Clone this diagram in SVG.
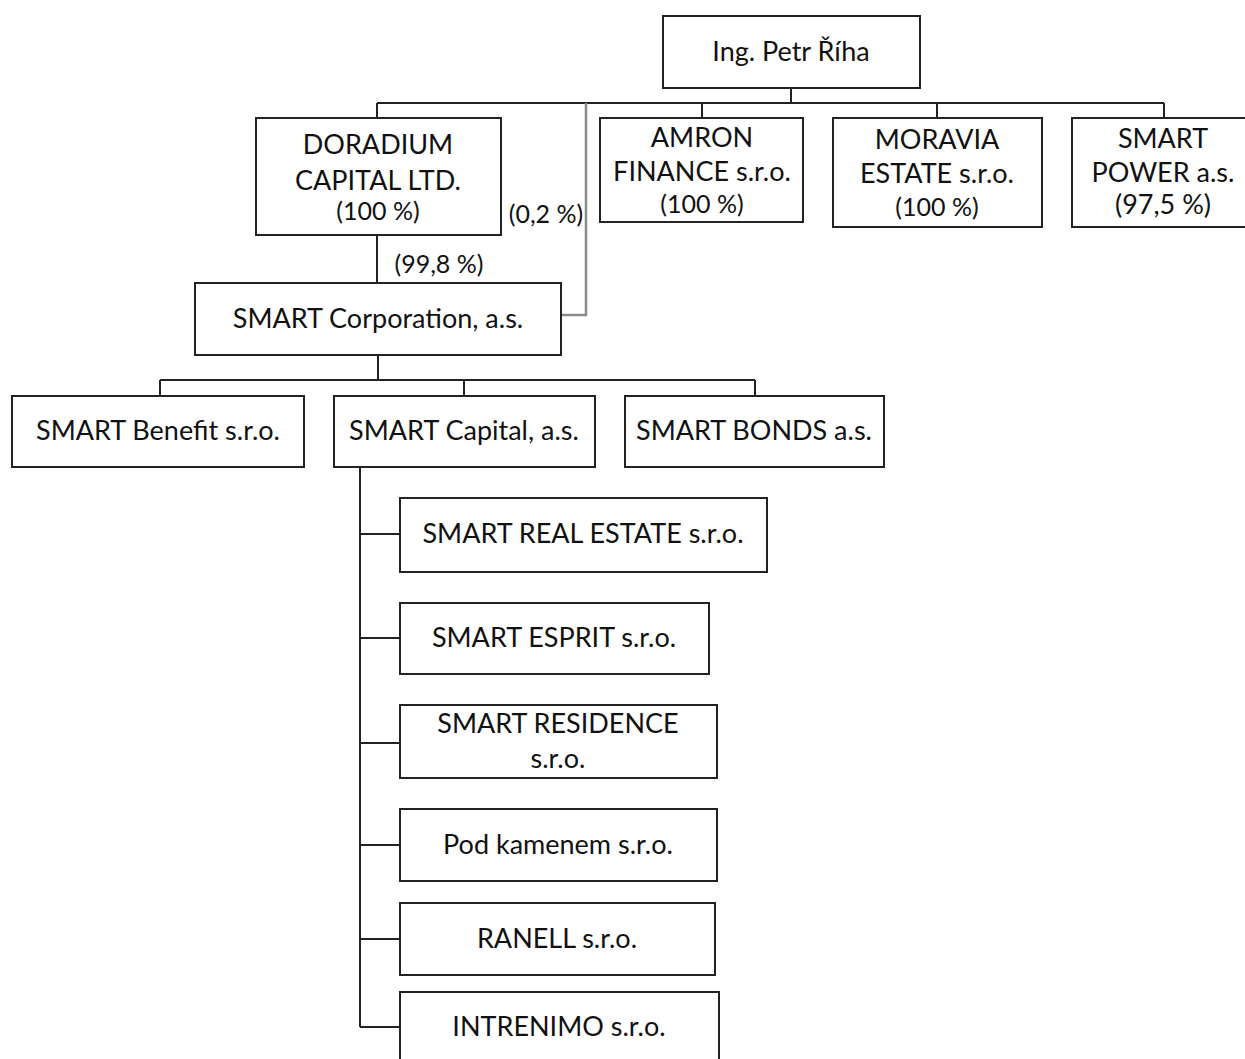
<svg xmlns="http://www.w3.org/2000/svg" width="1245" height="1059" viewBox="0 0 1245 1059">
<style>
.box{fill:#fff;stroke:#222;stroke-width:2}
.ln{fill:none;stroke:#222;stroke-width:2}
.gr{fill:none;stroke:#8a8a8a;stroke-width:2.5}
text{font-family:Lato,"Open Sans","Liberation Sans",sans-serif;font-size:27px;fill:#111;text-anchor:middle;dominant-baseline:central}
.sm{font-size:25px}
</style>
<rect width="1245" height="1059" fill="#fff"/>
<g id="connectors">
<path class="ln" d="M791 88V103M377 103H1164M377 103V118M702 103V118M937 103V118M1164 103V118"/>
<path class="gr" d="M586 103V315H561"/>
<path class="ln" d="M377 235V283"/>
<path class="ln" d="M378 355V380M160 380H755M160 380V396M464 380V396M755 380V396"/>
<path class="ln" d="M360 467V1027M360 534H400M360 638H400M360 743H400M360 845H400M360 939H400M360 1027H400"/>
<text x="546" y="213" class="sm">(0,2 %)</text>
<text x="439" y="263" class="sm">(99,8 %)</text>
</g>
<g id="petr"><rect class="box" x="663" y="16" width="257" height="72"/><text x="791" y="50">Ing. Petr Říha</text></g>
<g id="doradium"><rect class="box" x="256" y="118" width="245" height="117"/><text x="378" y="143">DORADIUM</text><text x="378" y="179">CAPITAL LTD.</text><text x="378" y="210" class="sm">(100 %)</text></g>
<g id="amron"><rect class="box" x="600" y="118" width="203" height="104"/><text x="702" y="136">AMRON</text><text x="702" y="170">FINANCE s.r.o.</text><text x="702" y="203" class="sm">(100 %)</text></g>
<g id="moravia"><rect class="box" x="833" y="118" width="209" height="109"/><text x="937" y="138">MORAVIA</text><text x="937" y="172">ESTATE s.r.o.</text><text x="937" y="206" class="sm">(100 %)</text></g>
<g id="smartpower"><rect class="box" x="1072" y="118" width="180" height="109"/><text x="1163" y="137">SMART</text><text x="1163" y="171">POWER a.s.</text><text x="1163" y="203">(97,5 %)</text></g>
<g id="corporation"><rect class="box" x="195" y="283" width="366" height="72"/><text x="378" y="317">SMART Corporation, a.s.</text></g>
<g id="benefit"><rect class="box" x="12" y="396" width="292" height="71"/><text x="158" y="429">SMART Benefit s.r.o.</text></g>
<g id="capital"><rect class="box" x="334" y="396" width="261" height="71"/><text x="464" y="429">SMART Capital, a.s.</text></g>
<g id="bonds"><rect class="box" x="625" y="396" width="259" height="71"/><text x="754" y="429">SMART BONDS a.s.</text></g>
<g id="realestate"><rect class="box" x="400" y="498" width="367" height="74"/><text x="583" y="532">SMART REAL ESTATE s.r.o.</text></g>
<g id="esprit"><rect class="box" x="400" y="603" width="309" height="71"/><text x="554" y="636">SMART ESPRIT s.r.o.</text></g>
<g id="residence"><rect class="box" x="400" y="705" width="317" height="73"/><text x="558" y="722">SMART RESIDENCE</text><text x="558" y="757">s.r.o.</text></g>
<g id="podkamenem"><rect class="box" x="400" y="809" width="317" height="72"/><text x="558" y="843">Pod kamenem s.r.o.</text></g>
<g id="ranell"><rect class="box" x="400" y="903" width="315" height="72"/><text x="557" y="937">RANELL s.r.o.</text></g>
<g id="intrenimo"><rect class="box" x="400" y="992" width="319" height="80"/><text x="559" y="1025">INTRENIMO s.r.o.</text></g>
</svg>
